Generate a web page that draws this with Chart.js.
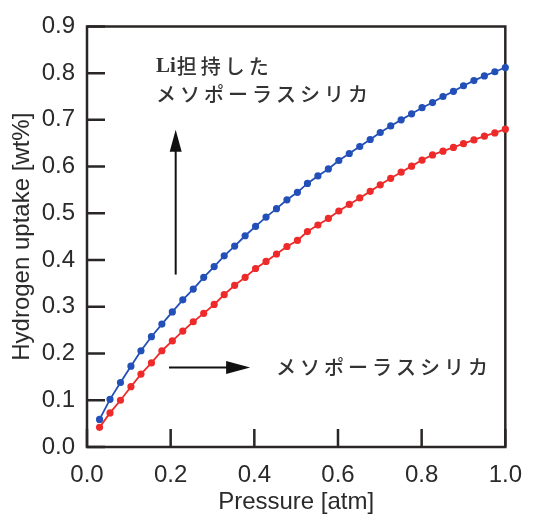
<!DOCTYPE html>
<html><head><meta charset="utf-8">
<script src="https://cdn.jsdelivr.net/npm/chart.js@4.4.0/dist/chart.umd.min.js"></script>
<style>html,body{margin:0;padding:0;background:#fff;}#wrap{width:536px;height:514px;}</style>
</head><body><div id="wrap"><canvas id="c" width="536" height="514"></canvas></div>
<script>
// ---- data ----
const pressure = [0.030,0.055,0.080,0.105,0.129,0.154,0.179,0.204,0.229,0.254,
  0.279,0.304,0.328,0.353,0.378,0.403,0.428,0.453,0.478,0.503,
  0.527,0.552,0.577,0.602,0.627,0.652,0.677,0.701,0.726,0.751,
  0.776,0.801,0.826,0.851,0.876,0.900,0.925,0.950,0.975,1.000];
const liSilicaUptake = [0.059,0.102,0.138,0.173,0.206,0.236,0.263,0.289,0.315,0.338,
  0.363,0.386,0.409,0.430,0.452,0.472,0.492,0.510,0.529,0.545,
  0.564,0.580,0.595,0.613,0.628,0.643,0.658,0.673,0.687,0.700,
  0.713,0.726,0.737,0.750,0.761,0.773,0.784,0.794,0.803,0.812];
const silicaUptake = [0.042,0.073,0.100,0.129,0.156,0.180,0.206,0.227,0.248,0.268,
  0.286,0.305,0.326,0.346,0.363,0.382,0.397,0.413,0.429,0.442,
  0.461,0.475,0.489,0.505,0.519,0.533,0.547,0.561,0.575,0.588,
  0.601,0.614,0.625,0.633,0.641,0.649,0.657,0.665,0.672,0.680];
const xTickValues = [0.0,0.2,0.4,0.6,0.8,1.0];
const yTickValues = [0.0,0.1,0.2,0.3,0.4,0.5,0.6,0.7,0.8,0.9];
const seriesNames = ['Li担持したメソポーラスシリカ','メソポーラスシリカ'];
const labelLine1Li = 'Li';
const labelLine1Rest = '担持した';
const labelLine2 = 'メソポーラスシリカ';
const labelSilica = 'メソポーラスシリカ';
const xTitle = 'Pressure [atm]';
const yTitle = 'Hydrogen uptake [wt%]';

// annotation anchors in data units
const anno = {
  upArrow: {x:0.212, y0:0.369, y1:0.679},
  rightArrow: {x0:0.196, x1:0.390, y:0.170},
  text1: {x:0.165, y1:0.815, y2:0.754},
  text2: {x:0.452, y:0.170}
};

const toPts = (xs, ys) => xs.map((x,i)=>({x:x, y:ys[i]}));
const FRAME = '#2a2626';

const framePlugin = {
  id:'frame',
  beforeDatasetsDraw(chart){
    const {ctx, chartArea:a, scales:{x, y}} = chart;
    ctx.save();
    ctx.strokeStyle = FRAME; ctx.lineWidth = 2.5;
    ctx.beginPath();
    ctx.rect(a.left, a.top, a.right-a.left, a.bottom-a.top);
    ctx.stroke();
    ctx.beginPath();
    xTickValues.forEach(v=>{
      const px = x.getPixelForValue(v);
      ctx.moveTo(px, a.bottom); ctx.lineTo(px, a.bottom-18);
    });
    yTickValues.forEach(v=>{
      const py = y.getPixelForValue(v);
      ctx.moveTo(a.left, py); ctx.lineTo(a.left+18, py);
    });
    ctx.stroke();
    ctx.restore();
  },
  afterDraw(chart){
    const {ctx, scales:{x, y}} = chart;
    ctx.save();
    ctx.strokeStyle = '#111'; ctx.fillStyle = '#111'; ctx.lineWidth = 2;
    // up arrow
    const ux = x.getPixelForValue(anno.upArrow.x);
    const uy0 = y.getPixelForValue(anno.upArrow.y0);
    const uy1 = y.getPixelForValue(anno.upArrow.y1);
    ctx.beginPath(); ctx.moveTo(ux, uy0); ctx.lineTo(ux, uy1+18); ctx.stroke();
    ctx.beginPath(); ctx.moveTo(ux, uy1); ctx.lineTo(ux-6, uy1+22); ctx.lineTo(ux+6, uy1+22); ctx.closePath(); ctx.fill();
    // right arrow
    const rx0 = x.getPixelForValue(anno.rightArrow.x0);
    const rx1 = x.getPixelForValue(anno.rightArrow.x1);
    const ry = y.getPixelForValue(anno.rightArrow.y);
    ctx.beginPath(); ctx.moveTo(rx0, ry); ctx.lineTo(rx1-18, ry); ctx.stroke();
    ctx.beginPath(); ctx.moveTo(rx1, ry); ctx.lineTo(rx1-24, ry-6.5); ctx.lineTo(rx1-24, ry+6.5); ctx.closePath(); ctx.fill();
    // texts
    ctx.fillStyle = '#333';
    ctx.textBaseline = 'middle'; ctx.textAlign = 'left';
    const t1x = x.getPixelForValue(anno.text1.x);
    const t1y = y.getPixelForValue(anno.text1.y1);
    const t2y = y.getPixelForValue(anno.text1.y2);
    ctx.font = 'bold 21px "Liberation Serif", serif';
    ctx.letterSpacing = '0px';
    ctx.fillText(labelLine1Li, t1x, t1y);
    const liW = ctx.measureText(labelLine1Li).width;
    ctx.font = '500 20px "Noto Sans CJK JP", sans-serif';
    ctx.letterSpacing = '4px';
    ctx.fillText(labelLine1Rest, t1x + liW + 1, t1y);
    ctx.font = '500 20px "Noto Sans CJK JP", sans-serif';
    ctx.fillText(labelLine2, t1x, t2y);
    ctx.fillText(labelSilica, x.getPixelForValue(anno.text2.x), y.getPixelForValue(anno.text2.y));
    ctx.restore();
  }
};

new Chart(document.getElementById('c'), {
  type:'scatter',
  data:{datasets:[
    {label:seriesNames[0], data:toPts(pressure, liSilicaUptake), showLine:true,
     borderColor:'#2350b8', backgroundColor:'#2350b8', borderWidth:1.8, pointRadius:2.7, pointHoverRadius:2.7, clip:false},
    {label:seriesNames[1], data:toPts(pressure, silicaUptake), showLine:true,
     borderColor:'#ee2a2a', backgroundColor:'#ee2a2a', borderWidth:1.8, pointRadius:2.7, pointHoverRadius:2.7, clip:false}
  ]},
  options:{
    responsive:false, animation:false, devicePixelRatio:1,
    layout:{padding:{top:23, right:26, left:0, bottom:0}},
    plugins:{legend:{display:false}, tooltip:{enabled:false}},
    scales:{
      x:{type:'linear', min:0, max:1,
        afterBuildTicks(s){ s.ticks = xTickValues.map(v=>({value:v})); },
        afterFit(s){ s.height = 67; },
        grid:{display:false, drawTicks:false}, border:{display:false},
        ticks:{padding:14, color:'#2a2a2a', font:{family:'"Liberation Sans", Arial, sans-serif', size:24}, callback:v=>v.toFixed(1), maxRotation:0, autoSkip:false},
        title:{display:true, text:xTitle, color:'#2a2a2a', font:{family:'"Liberation Sans", Arial, sans-serif', size:24, lineHeight:1}, padding:{top:0,bottom:0}}
      },
      y:{type:'linear', min:0, max:0.9,
        afterBuildTicks(s){ s.ticks = yTickValues.map(v=>({value:v})); },
        afterFit(s){ s.width = 87; },
        grid:{display:false, drawTicks:false}, border:{display:false},
        ticks:{padding:12, color:'#2a2a2a', font:{family:'"Liberation Sans", Arial, sans-serif', size:24}, callback:v=>v.toFixed(1), autoSkip:false},
        title:{display:true, text:yTitle, color:'#2a2a2a', font:{family:'"Liberation Sans", Arial, sans-serif', size:24, lineHeight:1}, padding:{top:10,bottom:0}}
      }
    }
  },
  plugins:[framePlugin]
});
</script></body></html>
